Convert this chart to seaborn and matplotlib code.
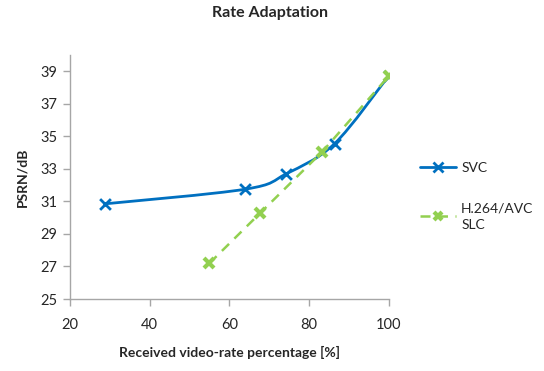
import numpy as np
import pandas as pd
import matplotlib
matplotlib.use("Agg")
import matplotlib.pyplot as plt
from matplotlib.path import Path
from matplotlib.patches import PathPatch
from matplotlib.lines import Line2D
import seaborn as sns

# Received rate (%) and PSNR (dB) for each codec
svc_rate = [28.8, 64.0, 74.3, 86.4, 100.0]
svc_psnr = [30.85, 31.75, 32.7, 34.55, 38.72]
avc_rate = [55.0, 67.8, 83.3, 100.0]
avc_psnr = [27.2, 30.3, 34.05, 38.7]

series_names = ["SVC", "H.264/AVC\nSLC"]
x_ticks = [20, 40, 60, 80, 100]
y_ticks = [25, 27, 29, 31, 33, 35, 37, 39]

sns.set_theme(style="white")
plt.rcParams["font.family"] = ["Lato", "DejaVu Sans"]

BLUE = "#0070C0"
GREEN = "#92D050"
GRAY = "#A6A6A6"
TEXT = "#262626"

fig = plt.figure(figsize=(5.44, 3.71), dpi=100)
ax = fig.add_axes([0.1287, 0.194, 0.586, 0.658])

svc = pd.DataFrame({"rate": svc_rate, "psnr": svc_psnr})
avc = pd.DataFrame({"rate": avc_rate, "psnr": avc_psnr})

# SVC: smoothed curve (Catmull-Rom as cubic Bezier) plus markers
pts = np.column_stack([svc_rate, svc_psnr])
ext = np.vstack([pts[0], pts, pts[-1]])
verts = [tuple(pts[0])]
codes = [Path.MOVETO]
for i in range(1, len(ext) - 2):
    p0, p1, p2, p3 = ext[i - 1], ext[i], ext[i + 1], ext[i + 2]
    c1 = p1 + (p2 - p0) / 6.0
    c2 = p2 - (p3 - p1) / 6.0
    verts += [tuple(c1), tuple(c2), tuple(p2)]
    codes += [Path.CURVE4] * 3
ax.add_patch(PathPatch(Path(verts, codes), facecolor="none", edgecolor=BLUE,
                       lw=2.0, zorder=3))
sns.scatterplot(data=svc, x="rate", y="psnr", ax=ax, marker="x", s=60,
                color=BLUE, linewidth=2.0, zorder=4)

# H.264/AVC SLC: dashed straight segments drawn on top
sns.lineplot(data=avc, x="rate", y="psnr", ax=ax, color=GREEN, lw=1.8,
             linestyle=(0, (4, 3)), marker="x", markersize=7, mew=3,
             markeredgecolor=GREEN, zorder=5)

ax.set_xlim(20, 100)
ax.set_ylim(25, 40)
ax.set_xticks(x_ticks)
ax.set_yticks(y_ticks)

for side in ["top", "right"]:
    ax.spines[side].set_visible(False)
for side in ["left", "bottom"]:
    ax.spines[side].set_color(GRAY)
    ax.spines[side].set_linewidth(1.0)
ax.tick_params(axis="both", which="major", direction="out", length=5,
               width=1.0, color=GRAY, labelsize=10.5, labelcolor=TEXT,
               left=True, bottom=True, pad=4)
ax.tick_params(axis="x", pad=9)

ax.set_xlabel("Received video-rate percentage [%]", fontsize=10,
              fontweight="bold", color=TEXT, labelpad=10)
ax.set_ylabel("PSRN/dB", fontsize=10, fontweight="bold", color=TEXT,
              labelpad=9)
fig.suptitle("Rate Adaptation", x=0.497, y=0.985, fontsize=11.5,
             fontweight="bold", color=TEXT)

handles = [
    Line2D([], [], color=BLUE, lw=2.0, marker="x", markersize=7, mew=2.0),
    Line2D([], [], color=GREEN, lw=1.8, linestyle=(0, (4, 3)), marker="x",
           markersize=6, mew=3),
]
leg = fig.legend(handles, series_names, loc="upper left",
                 bbox_to_anchor=(0.757, 0.585), frameon=False, fontsize=10,
                 handlelength=2.6, handletextpad=0.35, labelspacing=2.0,
                 labelcolor=TEXT, borderaxespad=0.2)
for t in leg.get_texts():
    t.set_linespacing(1.45)

fig.savefig("out.png", dpi=100, facecolor="white")
